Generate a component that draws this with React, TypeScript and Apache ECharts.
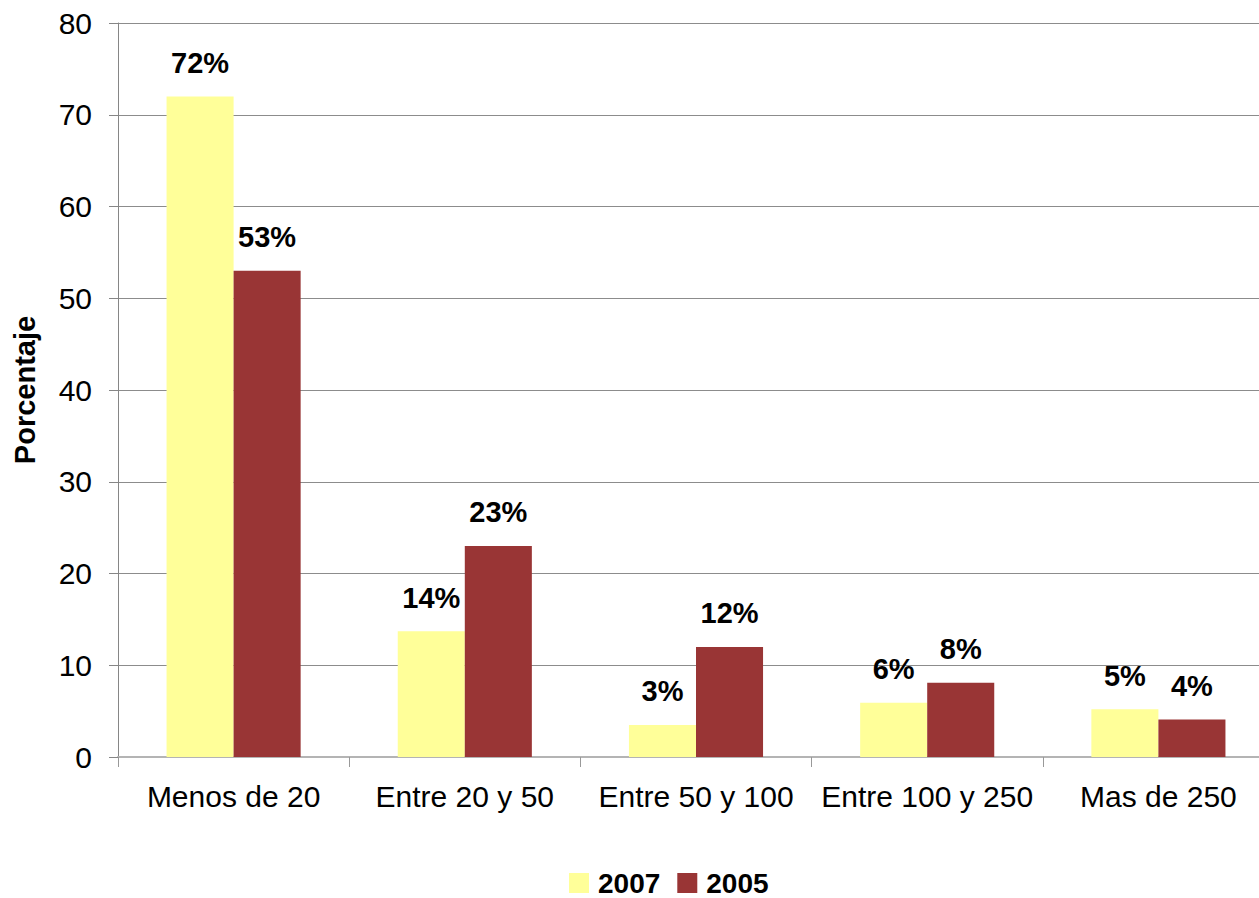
import React, { useEffect, useRef } from "react";
import * as echarts from "echarts";

const categories = ["Menos de 20", "Entre 20 y 50", "Entre 50 y 100", "Entre 100 y 250", "Mas de 250"];
const values2007 = [72, 13.7, 3.5, 5.9, 5.2];
const values2005 = [53, 23, 12, 8.1, 4.1];
const labels2007 = ["72%", "14%", "3%", "6%", "5%"];
const labels2005 = ["53%", "23%", "12%", "8%", "4%"];
const yTicks = { min: 0, max: 80, interval: 10 };

const FONT = "'Liberation Sans', Arial, Helvetica, sans-serif";

export default function App() {
  const ref = useRef<HTMLDivElement>(null);
  useEffect(() => {
    if (!ref.current) return;
    const chart = echarts.init(ref.current, undefined, { renderer: "svg" });
    const labelStyle = (labels: string[]) => ({
      show: true,
      position: "top" as const,
      distance: 19,
      fontFamily: FONT,
      fontSize: 29,
      fontWeight: "bold" as const,
      color: "#000",
      formatter: (p: any) => labels[p.dataIndex],
    });
    chart.setOption({
      animation: false,
      backgroundColor: "#fff",
      textStyle: { fontFamily: FONT },
      grid: { left: 118, right: -15, top: 23, bottom: 141, containLabel: false, outerBoundsMode: "none" },
      legend: {
        left: 564,
        top: 864,
        itemWidth: 20,
        itemHeight: 20,
        itemGap: 17,
        icon: "rect",
        textStyle: {
          fontFamily: FONT,
          fontSize: 28,
          fontWeight: "bold",
          color: "#000",
          padding: [0, 0, 0, 4],
        },
        data: ["2007", "2005"],
      },
      xAxis: {
        type: "category",
        data: categories,
        axisLine: { show: true, lineStyle: { color: "#b4b4b4", width: 2 } },
        axisTick: { show: true, length: 10, lineStyle: { color: "#999", width: 1 } },
        axisLabel: { fontFamily: FONT, fontSize: 30, color: "#000", margin: 24, interval: 0 },
      },
      yAxis: {
        type: "value",
        min: yTicks.min,
        max: yTicks.max,
        interval: yTicks.interval,
        name: "Porcentaje",
        nameLocation: "middle",
        nameGap: 79,
        nameRotate: 90,
        nameTextStyle: { fontFamily: FONT, fontSize: 29, fontWeight: "bold", color: "#000" },
        axisLine: { show: true, lineStyle: { color: "#868686", width: 1 } },
        axisTick: { show: true, length: 9, lineStyle: { color: "#868686" } },
        axisLabel: { fontFamily: FONT, fontSize: 30, color: "#000", margin: 26 },
        splitLine: { show: true, lineStyle: { color: "#8c8c8c", width: 1 } },
      },
      series: [
        {
          name: "2007",
          type: "bar",
          data: values2007,
          itemStyle: { color: "#FFFF99" },
          barGap: "0%",
          barCategoryGap: "42%",
          label: labelStyle(labels2007),
        },
        {
          name: "2005",
          type: "bar",
          data: values2005,
          itemStyle: { color: "#993535" },
          label: labelStyle(labels2005),
        },
      ],
    });
    return () => chart.dispose();
  }, []);
  return (
    <div
      ref={ref}
      style={{ position: "absolute", left: 0, top: 0, width: 1259, height: 898 }}
    />
  );
}
